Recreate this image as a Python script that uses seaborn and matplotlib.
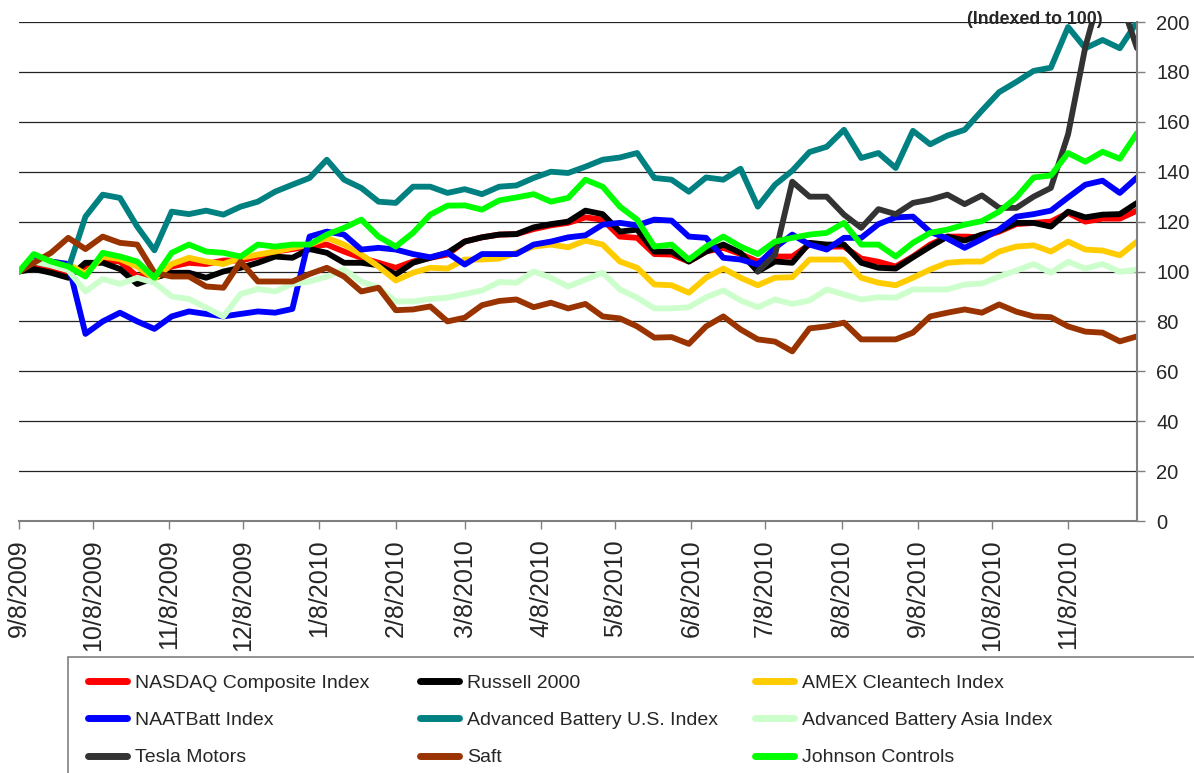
import matplotlib
matplotlib.use("Agg")
import matplotlib.pyplot as plt
from matplotlib.patches import Rectangle
import seaborn as sns
import numpy as np
import pandas as pd

# weekly closes, indexed to 100 on 9/8/2009
dates = pd.DatetimeIndex(["2009-09-08"]).append(
    pd.date_range("2009-09-14", periods=65, freq="7D"))

nasdaq = [100, 102, 100.5, 99, 102, 104.5, 104, 98, 99, 102,
          103.5, 103, 104.4, 104.4, 106, 108, 109, 110, 110.8,
          108, 105.5, 103.5, 101.5, 104, 105.5, 106.8, 112, 113.7,
          114.8, 115, 117, 118.5, 119.5, 121.7, 120.8, 114, 113.5, 107,
          106.8, 104, 108, 109.5, 107, 104, 106, 106, 110.8,
          110, 110, 105.2, 103.9, 102, 106, 110.8, 114, 114,
          113.7, 116, 119, 119.5, 120, 123.5, 120, 121.2, 121.2, 124.4]
russell = [100, 101, 99.5, 97.5, 103.5, 103.5, 101, 95, 97.5, 99.5,
           99.5, 97.5, 100, 101.5, 103.5, 106, 105.5, 109, 107.5,
           103.5, 103.5, 102.5, 98.8, 103.5, 105.5, 107.5, 112, 113.7,
           114.8, 115, 117.7, 119, 120, 124.4, 123, 116, 116.8, 108,
           108, 104, 108, 110.8, 107.5, 100, 104, 103.5, 111.5,
           110.8, 110.8, 103.5, 101.5, 101.2, 105.7, 110, 114, 112.4,
           114.8, 116.4, 119.5, 119.5, 118, 124, 121.7, 122.8, 123, 127.5]
amex = [100, 104, 104, 103, 99, 106, 105, 102, 97, 103,
        105.5, 104, 103, 105.5, 106.8, 108, 109.5, 110.8, 113.5,
        110.8, 106.8, 102, 96.4, 99.5, 101.5, 101.2, 104.8, 104.8,
        105.2, 107.5, 110, 110.8, 109.7, 112.4, 110.8, 104, 101.5, 94.8,
        94.5, 91.5, 97.5, 101.2, 97.5, 94.5, 97.5, 97.7, 104.8,
        104.8, 104.8, 97.5, 95.5, 94.5, 97.5, 100.8, 103.5, 104,
        104, 108, 110, 110.5, 108, 112, 108.8, 108.4, 106.5, 112]
naatbatt = [100, 104.8, 104, 103, 75, 80, 83.5, 80, 77, 82,
            84, 83, 82, 83, 84, 83.5, 85, 114, 116,
            114.8, 108.8, 109.5, 108.8, 107, 105.7, 107.5, 102.8, 107,
            107, 107, 110.8, 112, 113.7, 114.5, 118.8, 119.5, 118.5, 120.8,
            120.4, 114, 113.5, 105.5, 104.8, 102.8, 109.5, 114.8, 110.8,
            108.8, 113.5, 113.5, 119, 121.7, 122, 115.9, 113.2, 109.5,
            113, 116.8, 122, 123, 124.4, 129.7, 134.8, 136.4, 131.5, 137.7]
adv_us = [100, 104, 102.5, 101, 122, 130.8, 129.5, 118, 108.5, 124,
          123, 124.4, 122.8, 126, 128, 132, 134.8, 137.5, 144.8,
          136.8, 133.5, 128, 127.5, 134, 134, 131.5, 133, 131, 134,
          134.5, 137.5, 140, 139.5, 142, 144.8, 145.7, 147.5, 137.5,
          136.8, 132, 137.7, 136.8, 141.2, 126, 134.8, 140.4, 147.9,
          150, 156.8, 145.5, 147.5, 141.5, 156.4, 151, 154.5, 156.8,
          164.5, 171.9, 176, 180.4, 181.7, 198, 189.5, 192.8, 189.5, 200]
adv_asia = [100, 104, 102.5, 100.5, 92, 97, 95, 97.5, 95.5, 90,
            89, 85.5, 82, 91, 93, 92, 95, 96, 98,
            100.8, 96, 93.5, 88, 88, 89, 89.5, 91, 92.4, 95.8,
            95.5, 100, 97.5, 94, 96.8, 99.5, 92.8, 89.5, 85.2,
            85.2, 85.7, 89.7, 92.4, 88.4, 85.7, 88.8, 87, 88.4,
            92.8, 90.8, 88.8, 89.7, 89.5, 92.8, 92.8, 92.8, 94.8,
            95.2, 98, 100.4, 103, 99.5, 103.9, 101.2, 103, 99.9, 100.8]
tesla = [np.nan] * 43 + [100, 106.8, 136, 130,
         130, 122.8, 117.5, 125, 123, 127.5, 128.8, 130.8, 127,
         130.5, 125.5, 125.5, 130, 133.5, 155, 190, 215, 210, 189.5]
saft = [100, 103.5, 107.5, 113.5, 109, 114, 111.5, 110.8, 99.5, 98,
        98, 94, 93.5, 104, 96, 96, 96, 99, 101.5,
        98, 92, 93.5, 84.5, 84.8, 86, 80, 81.5, 86.5, 88.2,
        88.8, 85.7, 87.5, 85.2, 87, 82, 81.2, 78, 73.5,
        73.7, 71, 78, 82, 76.8, 72.8, 71.9, 68, 77.2,
        78, 79.5, 72.8, 72.8, 72.8, 75.5, 82, 83.5, 84.8,
        83.5, 86.8, 83.9, 82, 81.7, 78, 75.9, 75.5, 72, 74]
johnson = [100, 107, 104, 102, 98, 107.5, 106, 104, 97.5, 107.5,
           110.8, 108, 107.5, 106, 110.8, 110, 110.8, 110.8, 114.8,
           117.5, 120.8, 114, 110, 115.5, 122.8, 126.4, 126.5, 124.8, 128.5,
           129.7, 131, 128, 129.5, 136.8, 134, 126, 120.8, 110,
           110.8, 104.8, 110, 114, 110, 107, 112, 113.5, 114.8,
           115.5, 119.5, 110.8, 110.8, 106, 111.5, 115.5, 116.8, 118.8,
           120.2, 124, 129.7, 137.7, 138.5, 147.5, 144, 148, 145.2, 155.5]

series_names = ["NASDAQ Composite Index", "Russell 2000", "AMEX Cleantech Index",
                "NAATBatt Index", "Advanced Battery U.S. Index", "Advanced Battery Asia Index",
                "Tesla Motors", "Saft", "Johnson Controls"]
series_values = [nasdaq, russell, amex, naatbatt, adv_us, adv_asia, tesla, saft, johnson]
series_colors = ["#FF0000", "#000000", "#FFCC00", "#0000FF", "#008080", "#CCFFCC",
                 "#333333", "#993300", "#00FF00"]

tick_labels = ["9/8/2009", "10/8/2009", "11/8/2009", "12/8/2009", "1/8/2010",
               "2/8/2010", "3/8/2010", "4/8/2010", "5/8/2010", "6/8/2010",
               "7/8/2010", "8/8/2010", "9/8/2010", "10/8/2010", "11/8/2010"]

wide = pd.DataFrame(dict(zip(series_names, series_values)))
wide["Date"] = dates
df = wide.melt(id_vars="Date", var_name="Series", value_name="Index").dropna()

sns.set_theme(style="white")
plt.rcParams["font.family"] = ["Liberation Sans", "DejaVu Sans"]

fig = plt.figure(figsize=(11.94, 7.73), dpi=100)
ax = fig.add_axes([0.0159, 0.326, 0.9364, 0.6455])

sns.lineplot(data=df, x="Date", y="Index", hue="Series", hue_order=series_names,
             palette=dict(zip(series_names, series_colors)), linewidth=4.2,
             estimator=None, ax=ax)

handles, labels = ax.get_legend_handles_labels()
ax.get_legend().remove()

ax.set_ylim(0, 200)
ax.set_xlim(dates[0], dates[-1])
ax.set_yticks(range(0, 201, 20))
ax.yaxis.tick_right()
ax.set_xlabel("")
ax.set_ylabel("")
ax.grid(axis="y", color="#222222", lw=0.9)
ax.set_axisbelow(True)

tick_dates = pd.to_datetime(tick_labels, format="%m/%d/%Y")
ax.set_xticks(tick_dates)
ax.set_xticklabels(tick_labels, rotation=90, fontsize=18)
ax.tick_params(axis="x", bottom=True, direction="out", length=6, width=1,
               color="#808080", pad=7)
ax.tick_params(axis="y", right=True, left=False, direction="out", length=6,
               width=1, color="#808080", labelsize=14.5, pad=8)

for side in ["left", "top"]:
    ax.spines[side].set_visible(False)
for side in ["right", "bottom"]:
    ax.spines[side].set_color("#808080")
    ax.spines[side].set_linewidth(1.5)

fig.text(1103 / 1194, 1 - 19 / 773, "(Indexed to 100)", ha="right", va="center",
         fontsize=12.8, fontweight="bold")

# legend box runs off the bottom and right of the picture
fig.patches.append(Rectangle((68 / 1194, -0.1), 1.0, 0.25, transform=fig.transFigure,
                             fill=False, edgecolor="#808080", lw=1.2))
for col, x0 in enumerate([88, 420, 755]):
    idx = [col, col + 3, col + 6]
    leg = fig.legend([handles[i] for i in idx], [labels[i] for i in idx],
                     loc="upper left", bbox_to_anchor=(x0 / 1194, 1 - 674 / 773),
                     frameon=False, fontsize=14, handlelength=2.0, handletextpad=0.4,
                     labelspacing=1.02, borderpad=0, borderaxespad=0)
    for line in leg.get_lines():
        line.set_linewidth(5)

fig.savefig("out.png", dpi=100)
